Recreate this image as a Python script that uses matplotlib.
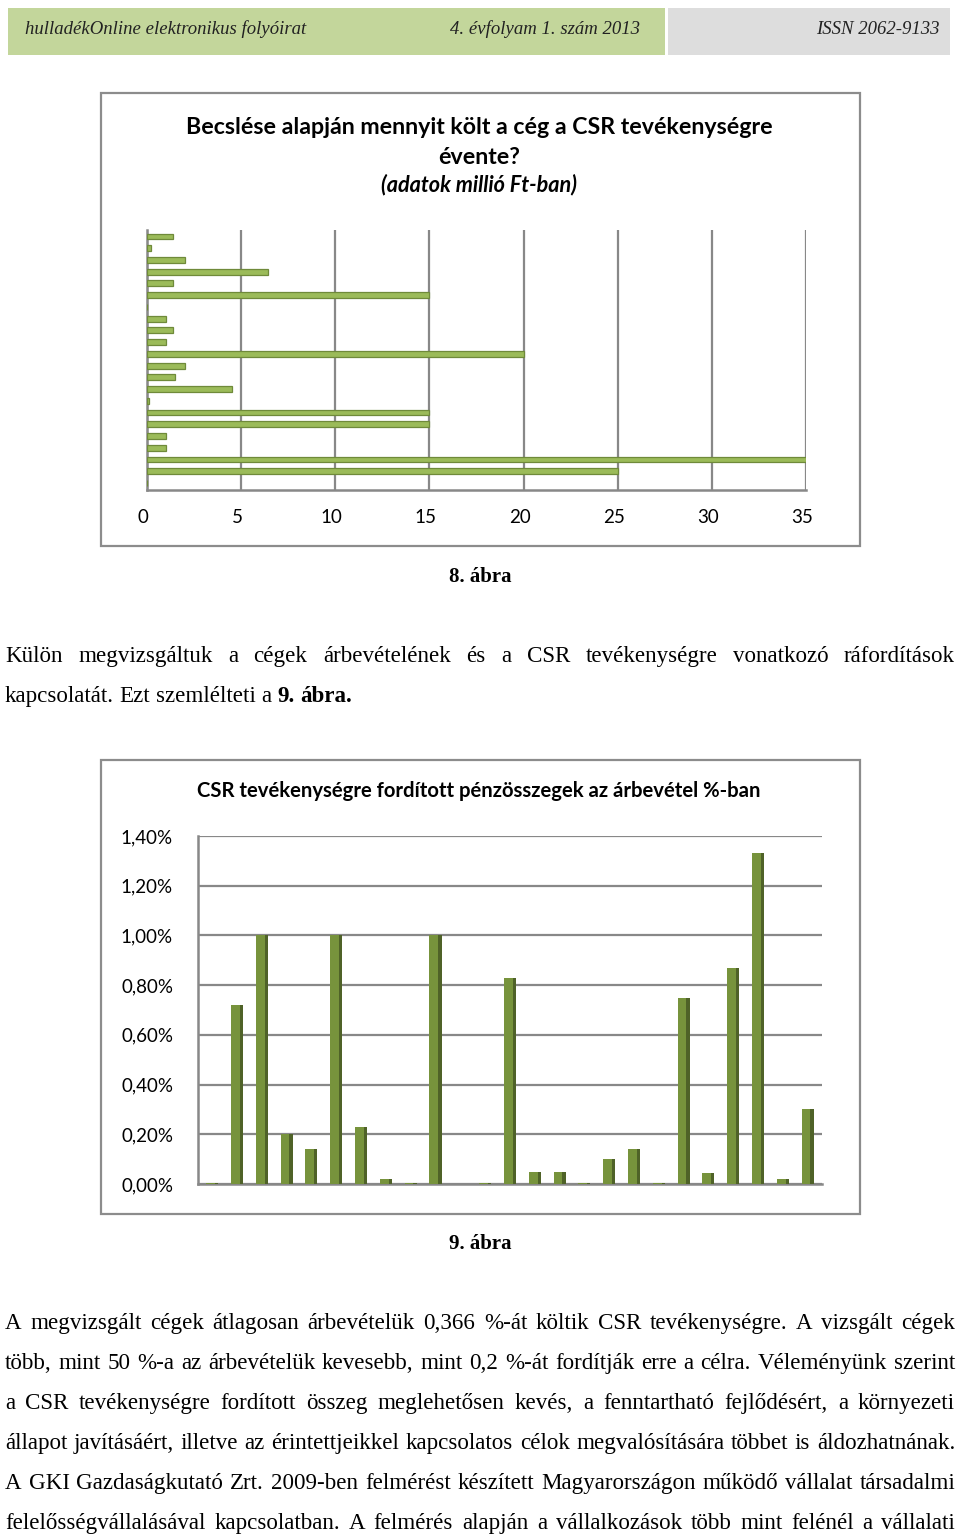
import matplotlib
matplotlib.use('Agg')
import matplotlib.pyplot as plt
from matplotlib.patches import Rectangle
import matplotlib.transforms as mtransforms
import numpy as np

# ---- data ----
header_left = 'hulladékOnline elektronikus folyóirat'
header_mid = '4. évfolyam 1. szám 2013'
header_right = 'ISSN 2062-9133'

title1 = ['Becslése alapján mennyit költ a cég a CSR tevékenységre', 'évente?']
subtitle1 = '(adatok millió Ft-ban)'
# spending per company, million Ft (top to bottom)
spend = [1.4, 0.2, 2.0, 6.4, 1.4, 15, 0, 1.0, 1.4, 1.0, 20, 2.0, 1.5, 4.5, 0.1,
         15, 15, 1.0, 1.0, 35, 25, 0]
x_ticks1 = [0, 5, 10, 15, 20, 25, 30, 35]

title2 = 'CSR tevékenységre fordított pénzösszegek az árbevétel %-ban'
# share of revenue in %, one slot per company (nan = no answer)
share = [0.003, 0.72, 1.00, 0.20, 0.14, 1.00, 0.23, 0.02, 0.003, 1.00, np.nan,
         0.003, 0.83, 0.05, 0.05, 0.003, 0.10, 0.14, 0.003, 0.75, 0.045, 0.87,
         1.33, 0.02, 0.30]
y_ticks2 = [0.0, 0.2, 0.4, 0.6, 0.8, 1.0, 1.2, 1.4]
y_labels2 = ['0,00%', '0,20%', '0,40%', '0,60%', '0,80%', '1,00%', '1,20%', '1,40%']

caption1 = '8. ábra'
caption2 = '9. ábra'
para1 = [
    'Külön megvizsgáltuk a cégek árbevételének és a CSR tevékenységre vonatkozó ráfordítások',
    'kapcsolatát. Ezt szemlélteti a',
]
para1_bold_tail = '9. ábra.'
para2 = [
    'A megvizsgált cégek átlagosan árbevételük 0,366 %-át költik CSR tevékenységre. A vizsgált cégek',
    'több, mint 50 %-a az árbevételük kevesebb, mint 0,2 %-át fordítják erre a célra. Véleményünk szerint',
    'a CSR tevékenységre fordított összeg meglehetősen kevés, a fenntartható fejlődésért, a környezeti',
    'állapot javításáért, illetve az érintettjeikkel kapcsolatos célok megvalósítására többet is áldozhatnának.',
    'A GKI Gazdaságkutató Zrt. 2009-ben felmérést készített Magyarországon működő vállalat társadalmi',
    'felelősségvállalásával kapcsolatban. A felmérés alapján a vállalkozások több mint felénél a vállalati',
]

W, H = 960, 1537
fig = plt.figure(figsize=(W/100, H/100), dpi=100)
renderer = fig.canvas.get_renderer()
SERIF = 'Liberation Serif'
SANS = 'Lato'
GRID = '#888888'

def fy(y):
  return 1 - y/H

def add_ax(l, t, r, b):
  return fig.add_axes([l/W, 1 - b/H, (r-l)/W, (b-t)/H])

def box(x0, y0, x1, y1, **kw):
  fig.add_artist(Rectangle((x0/W, fy(y1)), (x1-x0)/W, (y1-y0)/H,
                           transform=fig.transFigure, zorder=-1, **kw))

def space_w(size):
  a = fig.text(0, 0, 'a a', fontsize=size, family=SERIF)
  b = fig.text(0, 0, 'aa', fontsize=size, family=SERIF)
  d = a.get_window_extent(renderer).width - b.get_window_extent(renderer).width
  a.remove(); b.remove()
  return d

def text_line(words, ybase, size, justify=True, x0=5, x1=955):
  # words: list of (text, bold)
  ts = [fig.text(0, fy(ybase), w, fontsize=size, family=SERIF,
                 weight='bold' if b else 'normal', va='baseline', ha='left')
        for w, b in words]
  wd = [t.get_window_extent(renderer).width for t in ts]
  if justify and len(ts) > 1:
    gap = (x1 - x0 - sum(wd)) / (len(ts) - 1)
  else:
    gap = space_w(size)
  x = x0
  for t, w in zip(ts, wd):
    t.set_x(x/W)
    x += w + gap

# body font size: the tightest justified line just fills the column
probe = fig.text(0, 0, para2[3], fontsize=10, family=SERIF)
body_size = 10 * 947 / probe.get_window_extent(renderer).width
probe.remove()

# ---- header ----
box(8, 8, 665, 55, facecolor='#C3D69B', edgecolor='none')
box(668, 8, 950, 55, facecolor='#DDDDDD', edgecolor='none')
hkw = dict(fontsize=13.5, family=SERIF, style='italic', va='center', color='#222222')
fig.text(25/W, fy(29), header_left, ha='left', **hkw)
fig.text(640/W, fy(29), header_mid, ha='right', **hkw)
fig.text(940/W, fy(29), header_right, ha='right', **hkw)

# ---- chart 1 ----
box(101, 93, 860, 546, facecolor='white', edgecolor='#8C8C8C', lw=1.6)
fig.text(479/W, fy(127), title1[0], ha='center', va='center', fontsize=16.7,
         family=SANS, weight='bold')
fig.text(479/W, fy(157), title1[1], ha='center', va='center', fontsize=16.7,
         family=SANS, weight='bold')
fig.text(479/W, fy(185), subtitle1, ha='center', va='center', fontsize=15.6,
         family=SANS, weight='bold', style='italic')

ax1 = add_ax(147, 230, 806, 490)
pos1 = np.arange(len(spend))
ax1.barh(pos1, spend, height=0.5, color='#9BBB59', edgecolor='#6F8A3A', lw=0.9, zorder=3)
ax1.set_xlim(0, 35)
ax1.set_ylim(len(spend) - 0.4, -0.55)
ax1.set_xticks(x_ticks1)
ax1.set_xticklabels([str(v) for v in x_ticks1], fontsize=13.5, family=SANS)
ax1.set_yticks([])
ax1.xaxis.grid(True, color=GRID, lw=1.6)
ax1.set_axisbelow(True)
ax1.tick_params(axis='x', length=0, pad=14)
for lab in ax1.get_xticklabels():
  lab.set_transform(lab.get_transform() + mtransforms.ScaledTranslation(-4/100, 0, fig.dpi_scale_trans))
for s in ['top', 'right']:
  ax1.spines[s].set_visible(False)
for s in ['left', 'bottom']:
  ax1.spines[s].set_color(GRID)
  ax1.spines[s].set_linewidth(1.8)

fig.text(480/W, fy(582), caption1, ha='center', va='baseline', fontsize=15,
         family=SERIF, weight='bold')

# ---- paragraph 1 ----
text_line([(w, False) for w in para1[0].split()], 662, body_size)
text_line([(w, False) for w in para1[1].split()] + [(w, True) for w in para1_bold_tail.split()],
          702, body_size, justify=False)

# ---- chart 2 ----
box(101, 760, 860, 1214, facecolor='white', edgecolor='#8C8C8C', lw=1.6)
fig.text(479/W, fy(791), title2, ha='center', va='center', fontsize=14.6,
         family=SANS, weight='bold')

ax2 = add_ax(198, 836, 822, 1184)
pos2 = np.arange(len(share))
ax2.bar(pos2 - 0.04, share, width=0.36, color='#77933C', zorder=3)
ax2.bar(pos2 + 0.20, share, width=0.13, color='#4F6228', zorder=3)
ax2.set_xlim(-0.55, 24.6)
ax2.set_ylim(0, 1.4)
ax2.set_yticks(y_ticks2)
ax2.set_yticklabels(y_labels2, fontsize=13.5, family=SANS)
ax2.set_xticks([])
ax2.yaxis.grid(True, color=GRID, lw=1.6)
ax2.set_axisbelow(True)
ax2.tick_params(axis='y', length=0, pad=18)
for s in ['top', 'right']:
  ax2.spines[s].set_visible(False)
for s in ['left', 'bottom']:
  ax2.spines[s].set_color(GRID)
  ax2.spines[s].set_linewidth(1.8)

fig.text(480/W, fy(1249), caption2, ha='center', va='baseline', fontsize=15,
         family=SERIF, weight='bold')

# ---- paragraph 2 ----
for i, ln in enumerate(para2):
  text_line([(w, False) for w in ln.split()], 1329 + 40*i, body_size)

fig.savefig('out.png', dpi=100)
